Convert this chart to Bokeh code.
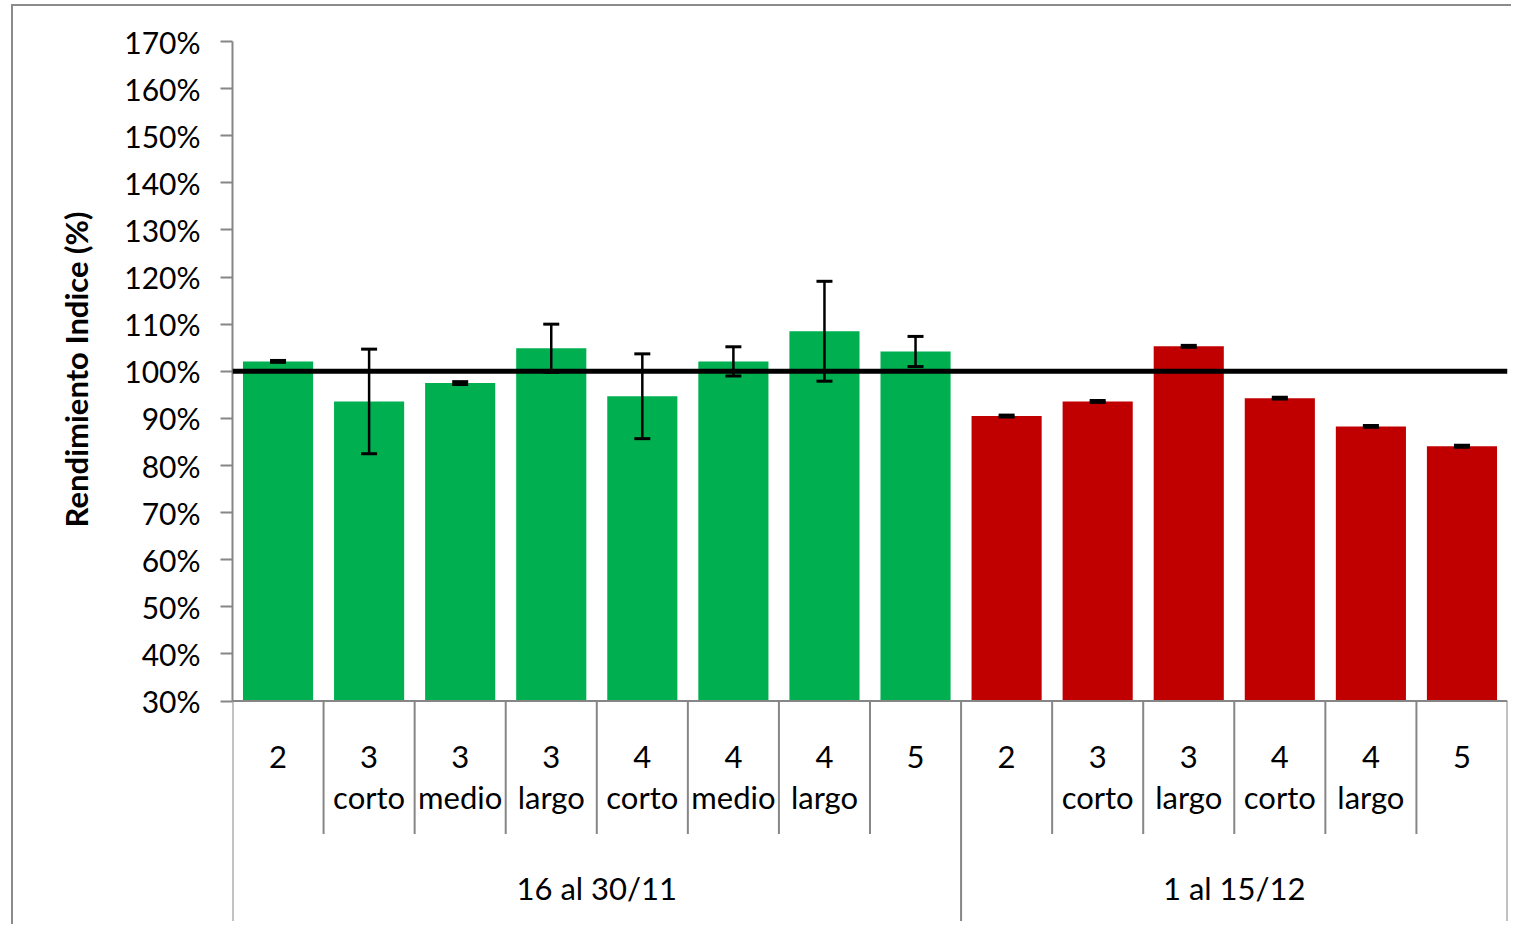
from bokeh.plotting import figure
from bokeh.models import (Range1d, FixedTicker, PrintfTickFormatter, Span, Whisker,
                          ColumnDataSource, TeeHead, Title)
from bokeh.embed import file_html
from bokeh.resources import INLINE
from bokeh.core.properties import value

# ---------------- data ----------------
periods = ["16 al 30/11", "1 al 15/12"]
period1_top = ["2", "3", "3", "3", "4", "4", "4", "5"]
period1_sub = ["", "corto", "medio", "largo", "corto", "medio", "largo", ""]
period1_values = [102.1, 93.6, 97.5, 104.9, 94.7, 102.1, 108.5, 104.2]
period1_errors = [0.2, 11.1, 0.3, 5.1, 9.0, 3.1, 10.6, 3.2]
period2_top = ["2", "3", "3", "4", "4", "5"]
period2_sub = ["", "corto", "largo", "corto", "largo", ""]
period2_values = [90.5, 93.6, 105.3, 94.3, 88.3, 84.1]
period2_errors = [0.2, 0.2, 0.2, 0.2, 0.2, 0.2]
period_colors = ["#00B050", "#C00000"]
y_ticks = list(range(30, 171, 10))
reference_value = 100
y_title = "Rendimiento Indice (%)"

FONT = "Lato"
AXIS_GRAY = "#868686"
n1, n2 = len(period1_values), len(period2_values)
n = n1 + n2
y_base = y_ticks[0]

# ---------------- figure ----------------
p = figure(width=1500, height=920, output_backend="svg", toolbar_location=None,
           x_range=Range1d(0, n), y_range=Range1d(-17, 170),
           x_axis_type=None, min_border_left=219, min_border_top=35,
           min_border_right=6, min_border_bottom=4)
p.styles = {"margin-top": "4px", "margin-left": "11px",
            "border-top": "2px solid #8b8b8b", "border-left": "2px solid #8b8b8b"}
p.outline_line_color = None
p.grid.visible = False
p.background_fill_color = "white"

yax = p.yaxis[0]
yax.bounds = (y_ticks[0], y_ticks[-1])
yax.ticker = FixedTicker(ticks=y_ticks)
yax.formatter = PrintfTickFormatter(format="%d%%")
yax.minor_tick_line_color = None
yax.axis_line_color = AXIS_GRAY
yax.axis_line_width = 2
yax.major_tick_line_color = AXIS_GRAY
yax.major_tick_line_width = 2
yax.major_tick_out = 12
yax.major_tick_in = 0
yax.major_label_standoff = 20
yax.major_label_text_font = FONT
yax.major_label_text_font_size = "30px"
yax.major_label_text_color = "black"

# y-axis title, centred on the value part of the axis (30%-170%)
p.add_layout(Title(text=y_title, align="right", offset=170,
                   text_font=FONT, text_font_style="bold",
                   text_font_size="31px", text_color="black", standoff=54), "left")

# ---------------- bars ----------------
xs = [i + 0.5 for i in range(n)]
vals = period1_values + period2_values
errs = period1_errors + period2_errors
cols = [period_colors[0]] * n1 + [period_colors[1]] * n2
src = ColumnDataSource(dict(x=xs, top=vals, color=cols,
                            upper=[v + e for v, e in zip(vals, errs)],
                            lower=[v - e for v, e in zip(vals, errs)]))
p.vbar(x="x", top="top", bottom=y_base, width=0.77, fill_color="color",
       line_color=None, source=src)

# reference line
p.add_layout(Span(location=reference_value, dimension="width",
                  line_color="black", line_width=5))

# error bars
w = Whisker(base="x", upper="upper", lower="lower", source=src,
            line_color="black", line_width=2.5, level="overlay",
            upper_head=TeeHead(size=16, line_width=3, line_color="black"),
            lower_head=TeeHead(size=16, line_width=3, line_color="black"))
p.add_layout(w)

# ---------------- category axis (Excel-style multi-level) ----------------
unit = 4.714  # px per y unit
lvl1_bottom = y_base - 133 / unit
lvl2_bottom = y_base - 220 / unit
p.segment(x0=[0], y0=[y_base], x1=[n], y1=[y_base], line_color=AXIS_GRAY, line_width=2)
inner = [i for i in range(1, n) if i != n1]
p.segment(x0=inner, y0=[y_base] * len(inner), x1=inner, y1=[lvl1_bottom] * len(inner),
          line_color=AXIS_GRAY, line_width=2)
outer = [0, n1, n]
p.segment(x0=outer, y0=[y_base] * 3, x1=outer, y1=[lvl2_bottom] * 3,
          line_color=AXIS_GRAY, line_width=2)

tops = period1_top + period2_top
subs = period1_sub + period2_sub
p.text(x=xs, y=[y_base - 56 / unit] * n, text=tops, text_align="center",
       text_baseline="middle", text_font=value(FONT), text_font_size="31px",
       text_color="black")
p.text(x=xs, y=[y_base - 96 / unit] * n, text=subs, text_align="center",
       text_baseline="middle", text_font=value(FONT), text_font_size="31px",
       text_color="black")
p.text(x=[n1 / 2, n1 + n2 / 2], y=[y_base - 187 / unit] * 2, text=periods,
       text_align="center", text_baseline="middle", text_font=value(FONT),
       text_font_size="31px", text_color="black")

open("out.html", "w").write(file_html(p, INLINE))
